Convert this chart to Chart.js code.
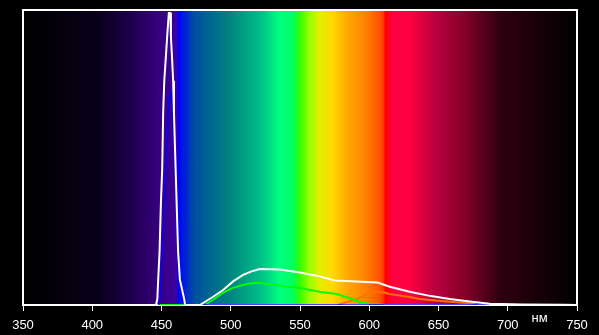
<!DOCTYPE html>
<html>
<head>
<meta charset="utf-8">
<script src="https://cdn.jsdelivr.net/npm/chart.js@4/dist/chart.umd.min.js"></script>
<style>
  html, body { margin: 0; padding: 0; background: #000; }
  canvas { display: block; }
</style>
</head>
<body>
<canvas id="spectrum" width="599" height="335"></canvas>
<script>
// wavelength axis, nm
const xTicks = [350, 400, 450, 500, 550, 600, 650, 700, 750];

// total spectrum (white)
const whiteNm  = [350, 446, 447, 447.6, 448.6, 449.6, 450.5, 451.2, 452, 453, 454.1, 455.3, 456.4, 456.8, 457.7, 458.4, 459, 460.2, 460.9, 462, 463.3, 466.4, 467, 477.7, 487.3, 494.5, 501.7, 508.9, 515, 521, 535.4, 549.9, 564.3, 575, 606, 614.8, 629.2, 643.6, 658, 672.5, 686.9, 710.8, 739.6, 750];
const whiteVal = [0, 0, 0.02, 0.085, 0.18, 0.35, 0.46, 0.65, 0.76, 0.83, 0.91, 0.99, 0.99, 0.91, 0.83, 0.76, 0.65, 0.46, 0.35, 0.18, 0.085, 0.02, 0, 0, 0.028, 0.051, 0.08, 0.102, 0.114, 0.122, 0.12, 0.11, 0.097, 0.083, 0.076, 0.062, 0.045, 0.031, 0.02, 0.012, 0.004, 0.002, 0.001, 0];

// blue channel
const blueNm  = [448, 449, 451, 453, 455, 456.5, 458, 459.5, 461, 462, 463.5, 466, 468, 687];
const blueVal = [0, 0.02, 0.2, 0.45, 0.65, 0.72, 0.68, 0.5, 0.33, 0.17, 0.08, 0.01, 0, 0];

// green channel
const greenNm  = [448, 466, 481.3, 487.1, 494.3, 501.5, 511.6, 518.8, 528.2, 537.6, 549.9, 564.3, 576.5, 585.9, 593.1, 600.4, 607.6, 610];
const greenVal = [0, 0, 0, 0.017, 0.041, 0.058, 0.071, 0.075, 0.071, 0.064, 0.058, 0.045, 0.037, 0.023, 0.011, 0.004, 0.002, 0];

// red channel
const redNm  = [577.3, 590.8, 600.4, 605.4, 609.7, 614.8, 622, 629.2, 636.4, 643.6, 658, 672.5, 676.8, 677.6];
const redVal = [0, 0.02, 0.04, 0.045, 0.043, 0.037, 0.032, 0.027, 0.02, 0.017, 0.011, 0.006, 0.002, 0];

// background rainbow (nm -> colour)
const bandNm  = [350, 405, 430, 449, 461, 462, 474, 498, 522, 535, 545, 550, 557, 564, 574, 584, 598, 608, 610.5, 611.5, 617, 629, 646, 670, 694, 750];
const bandCol = ['#000000', '#08001a', '#200050', '#380080', '#3c00a0', '#0000ff', '#0050a0', '#008080', '#00c088', '#00ff80', '#00ff60', '#33ff00', '#99ff00', '#e0f000', '#ffd700', '#ffaa00', '#ff8000', '#ff5000', '#ff3000', '#ff0000', '#ff0040', '#ff0040', '#c00040', '#800028', '#300010', '#000000'];

const pts = (xs, ys) => xs.map((x, i) => ({ x: x, y: ys[i] }));

const backdrop = {
    id: 'backdrop',
    beforeDraw(chart) {
        const { ctx, chartArea: a, scales: { x } } = chart;
        ctx.save();
        ctx.fillStyle = '#000';
        ctx.fillRect(0, 0, chart.width, chart.height);
        const g = ctx.createLinearGradient(a.left, 0, a.right, 0);
        bandNm.forEach((nm, i) => {
            const t = (x.getPixelForValue(nm) - a.left) / (a.right - a.left);
            g.addColorStop(Math.min(1, Math.max(0, t)), bandCol[i]);
        });
        ctx.fillStyle = g;
        ctx.fillRect(a.left, a.top, a.right - a.left, a.bottom - a.top);
        ctx.restore();
    },
    beforeDatasetsDraw(chart) {
        const { ctx, chartArea: a, scales: { x } } = chart;
        ctx.save();
        ctx.strokeStyle = '#fff';
        ctx.lineWidth = 2;
        ctx.strokeRect(a.left, a.top, a.right - a.left, a.bottom - a.top);
        ctx.fillStyle = '#fff';
        ctx.font = '13px "Liberation Sans", Arial, sans-serif';
        ctx.textAlign = 'center';
        ctx.textBaseline = 'middle';
        ctx.fillText('нм', x.getPixelForValue(723), a.bottom + 13);
        ctx.restore();
    }
};

new Chart(document.getElementById('spectrum'), {
    type: 'line',
    data: {
        datasets: [
            { data: pts(whiteNm, whiteVal), borderColor: '#ffffff', borderWidth: 2 },
            { data: pts(blueNm, blueVal), borderColor: '#0000ff', borderWidth: 1.5 },
            { data: pts(greenNm, greenVal), borderColor: '#00ff00', borderWidth: 2 },
            { data: pts(redNm, redVal), borderColor: '#ff7000', borderWidth: 2 }
        ]
    },
    options: {
        responsive: false,
        animation: false,
        devicePixelRatio: 1,
        layout: { padding: { left: 23, right: 22, top: 10, bottom: 0 } },
        elements: { point: { radius: 0 }, line: { tension: 0 } },
        plugins: { legend: { display: false }, tooltip: { enabled: false } },
        scales: {
            x: {
                type: 'linear',
                min: 350,
                max: 750,
                afterFit: (s) => { s.height = 30; },
                afterBuildTicks: (s) => { s.ticks = xTicks.map(v => ({ value: v })); },
                grid: { drawOnChartArea: false, drawTicks: true, tickLength: 6, color: '#fff', lineWidth: 1 },
                border: { display: false },
                ticks: {
                    color: '#fff',
                    padding: 7,
                    maxRotation: 0,
                    font: { family: '"Liberation Sans", Arial, sans-serif', size: 13 }
                }
            },
            y: {
                display: false,
                min: 0,
                max: 1
            }
        }
    },
    plugins: [backdrop]
});
</script>
</body>
</html>
